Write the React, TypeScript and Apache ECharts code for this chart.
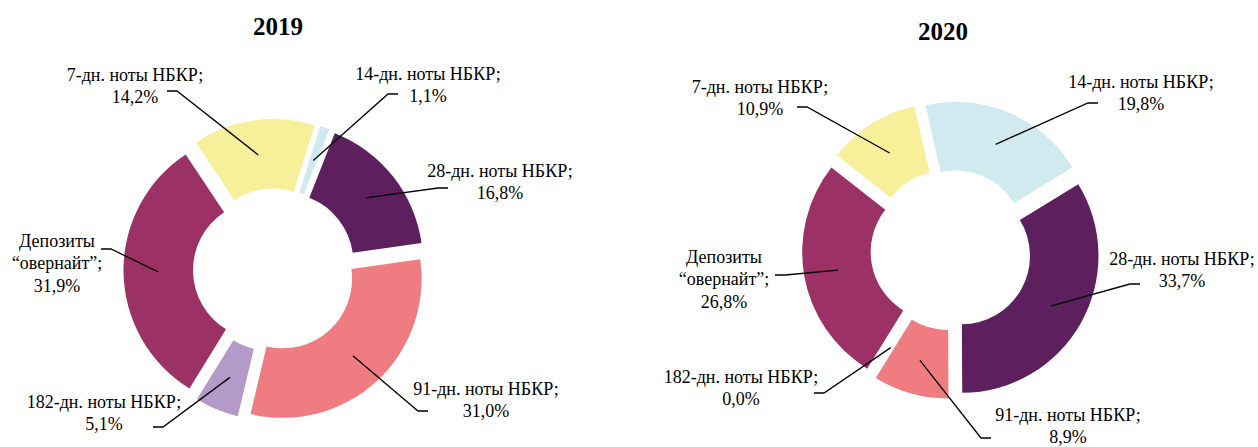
import React, { useEffect, useRef } from 'react';
import * as echarts from 'echarts';

// ---- data ----
const categories = [
  'Депозиты “овернайт”',
  '7-дн. ноты НБКР',
  '14-дн. ноты НБКР',
  '28-дн. ноты НБКР',
  '91-дн. ноты НБКР',
  '182-дн. ноты НБКР',
];
const years = ['2019', '2020'];
const values2019 = [31.9, 14.2, 1.1, 16.8, 31.0, 5.1];
const values2020 = [26.8, 10.9, 19.8, 33.7, 8.9, 0.0];
const colors = ['#9B3164', '#F7F09A', '#D1EAF0', '#5E1F5F', '#EF7C80', '#B49AC9'];

// ---- layout (positions / sizes only) ----
const START_CW = 211.7; // start of first slice, degrees clockwise from 12 o'clock
const EXPLODE = 12; // px each slice is pulled out
const FONT = '"Liberation Serif", "Times New Roman", serif';

type LabelPos = { pos: [number, number]; end: [number, number] };
type PieLayout = {
  center: [number, number];
  outer: number;
  inner: number;
  title: [number, number];
  labels: LabelPos[];
};

const LAYOUT: PieLayout[] = [
  {
    center: [274.5, 270],
    outer: 139,
    inner: 69.5,
    title: [278, 26],
    labels: [
      { pos: [57, 263], end: [101, 249] },
      { pos: [135, 86], end: [167, 91] },
      { pos: [428, 85], end: [398, 94] },
      { pos: [500, 182], end: [448, 188] },
      { pos: [486, 400], end: [428, 411] },
      { pos: [104, 413], end: [153, 427] },
    ],
  },
  {
    center: [951, 250],
    outer: 137,
    inner: 68.5,
    title: [943, 31],
    labels: [
      { pos: [724, 279], end: [775, 275] },
      { pos: [760, 98], end: [797, 107] },
      { pos: [1141, 93], end: [1098, 103] },
      { pos: [1182, 270], end: [1140, 284] },
      { pos: [1068, 426], end: [991, 438] },
      { pos: [741, 388], end: [814, 393] },
    ],
  },
];

const fmt = (v: number) => v.toFixed(1).replace('.', ',') + '%';
const labelName = (n: string) => n.replace(' “', '\n“');

function midAnglesCW(vals: number[]): number[] {
  const total = vals.reduce((a, b) => a + b, 0);
  let cum = 0;
  return vals.map((v) => {
    const m = START_CW + ((cum + v / 2) / total) * 360;
    cum += v;
    return (m * Math.PI) / 180;
  });
}

function buildSeries(vals: number[], L: PieLayout) {
  const mids = midAnglesCW(vals);
  const [cx, cy] = L.center;
  const series: any[] = [];
  vals.forEach((_, i) => {
    const a = mids[i];
    series.push({
      type: 'pie',
      silent: true,
      z: 2,
      center: [cx + EXPLODE * Math.sin(a), cy - EXPLODE * Math.cos(a)],
      radius: [L.inner, L.outer],
      startAngle: 90 - START_CW,
      clockwise: true,
      avoidLabelOverlap: false,
      label: { show: false },
      labelLine: { show: false },
      emphasis: { disabled: true },
      data: vals.map((v, j) => ({
        name: categories[j],
        value: v,
        itemStyle: {
          color: j === i ? colors[j] : 'rgba(0,0,0,0)',
          borderWidth: 0,
        },
      })),
    });
  });
  const midR = (L.inner + L.outer) / 2 + EXPLODE;
  const anchors = mids.map((a) => [cx + midR * Math.sin(a), cy - midR * Math.cos(a)]);
  series.push({
    type: 'pie',
    silent: true,
    z: 5,
    center: [cx, cy],
    radius: [L.inner, L.outer],
    startAngle: 90 - START_CW,
    clockwise: true,
    avoidLabelOverlap: false,
    minShowLabelAngle: 0,
    emphasis: { disabled: true },
    itemStyle: { color: 'rgba(0,0,0,0)', borderWidth: 0 },
    label: {
      show: true,
      position: 'outside',
      color: '#000',
      fontFamily: FONT,
      fontSize: 18,
      lineHeight: 22.5,
      align: 'center',
      formatter: (p: any) => labelName(p.name) + ';\n' + fmt(p.value),
    },
    labelLine: { show: true, lineStyle: { color: '#000', width: 1.3 } },
    labelLayout: (p: any) => {
      const lp = L.labels[p.dataIndex];
      const A = anchors[p.dataIndex];
      const E = lp.end;
      const B = [E[0] + (A[0] > lp.pos[0] ? 10 : -10), E[1]];
      return {
        x: lp.pos[0],
        y: lp.pos[1],
        align: 'center',
        verticalAlign: 'middle',
        labelLinePoints: [A, B, E],
      };
    },
    data: vals.map((v, j) => ({ name: categories[j], value: v })),
  });
  return series;
}

export default function App() {
  const ref = useRef<HTMLDivElement>(null);
  useEffect(() => {
    if (!ref.current) return;
    const chart = echarts.init(ref.current, undefined, { renderer: 'svg' });
    const allVals = [values2019, values2020];
    const series = allVals.flatMap((vals, k) => buildSeries(vals, LAYOUT[k]));
    chart.setOption({
      animation: false,
      backgroundColor: '#fff',
      graphic: years.map((y, k) => ({
        type: 'text',
        x: LAYOUT[k].title[0],
        y: LAYOUT[k].title[1],
        style: {
          text: y,
          align: 'center',
          verticalAlign: 'middle',
          font: `bold 25px ${FONT}`,
          fill: '#000',
        },
      })),
      series,
    });
    return () => chart.dispose();
  }, []);
  return (
    <div
      ref={ref}
      style={{ position: 'absolute', left: 0, top: 0, width: 1258, height: 447 }}
    />
  );
}
